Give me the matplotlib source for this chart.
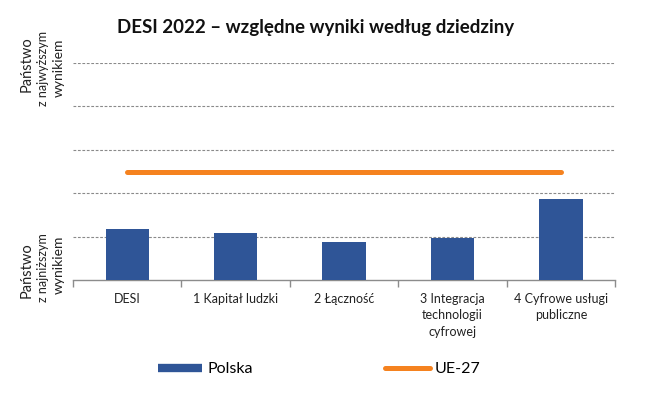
import matplotlib
matplotlib.use("Agg")
import matplotlib.pyplot as plt
from matplotlib.lines import Line2D

plt.rcParams['font.family'] = ['Lato', 'DejaVu Sans']

# dane (skala 0-5)
categories = ['DESI', '1 Kapitał ludzki', '2 Łączność',
              '3 Integracja\ntechnologii\ncyfrowej', '4 Cyfrowe usługi\npubliczne']
polska = [1.17, 1.08, 0.88, 0.97, 1.87]
ue27 = [2.48, 2.48, 2.48, 2.48, 2.48]
grid_levels = [1, 2, 3, 4, 5]

blue = '#2f5597'
orange = '#f5821f'

fig = plt.figure(figsize=(6.55, 3.96), dpi=100)
ax = fig.add_axes([0.1115, 0.2929, 0.8275, 0.5481])

x = list(range(len(categories)))
ax.bar(x, polska, width=0.4, color=blue, zorder=3)
ax.plot(x, ue27, color=orange, lw=3.6, solid_capstyle='round', zorder=4)

for g in grid_levels:
    ax.axhline(g, color='#8a8a8a', lw=0.8, ls=(0, (2.5, 1.5)), zorder=1)

ax.set_xlim(-0.5, len(categories) - 0.5)
ax.set_ylim(0, 5)

for s in ['top', 'right', 'left']:
    ax.spines[s].set_visible(False)
ax.spines['bottom'].set_color('#8c8c8c')
ax.spines['bottom'].set_linewidth(1.0)

ax.set_yticks([])
ax.set_xticks([i - 0.5 for i in range(len(categories) + 1)], minor=False)
ax.set_xticklabels([])
ax.tick_params(axis='x', which='major', length=5, color='#8c8c8c', width=1.0)
ax.set_xticks(x, minor=True)
ax.set_xticklabels(categories, minor=True, fontsize=9, color='#222222', linespacing=1.45,
                   va='top')
ax.tick_params(axis='x', which='minor', length=0, pad=9)

fig.text(0.482, 0.93, 'DESI 2022 – względne wyniki według dziedziny',
         ha='center', va='center', fontsize=13.5, fontweight='bold', color='#111111')

# opisy osi Y
fig.text(27 / 655, 1 - 64 / 396, 'Państwo', rotation=90, ha='center', va='center', fontsize=10.5, color='#222222')
fig.text(43 / 655, 1 - 68 / 396, 'z najwyższym', rotation=90, ha='center', va='center', fontsize=9, color='#222222')
fig.text(59 / 655, 1 - 68 / 396, 'wynikiem', rotation=90, ha='center', va='center', fontsize=10, color='#222222')

fig.text(27 / 655, 1 - 270 / 396, 'Państwo', rotation=90, ha='center', va='center', fontsize=10.5, color='#222222')
fig.text(43 / 655, 1 - 268 / 396, 'z najniższym', rotation=90, ha='center', va='center', fontsize=9, color='#222222')
fig.text(59 / 655, 1 - 265 / 396, 'wynikiem', rotation=90, ha='center', va='center', fontsize=10, color='#222222')

handles = [Line2D([0], [0], color=blue, lw=6, solid_capstyle='butt'),
           Line2D([0], [0], color=orange, lw=3.6, solid_capstyle='round')]
fig.legend(handles, ['Polska', 'UE-27'], loc='center', bbox_to_anchor=(0.487, 0.068),
           ncol=2, frameon=False, fontsize=11.5, handlelength=2.8, handletextpad=0.3,
           columnspacing=8.3)

fig.savefig('out.png', dpi=100)
